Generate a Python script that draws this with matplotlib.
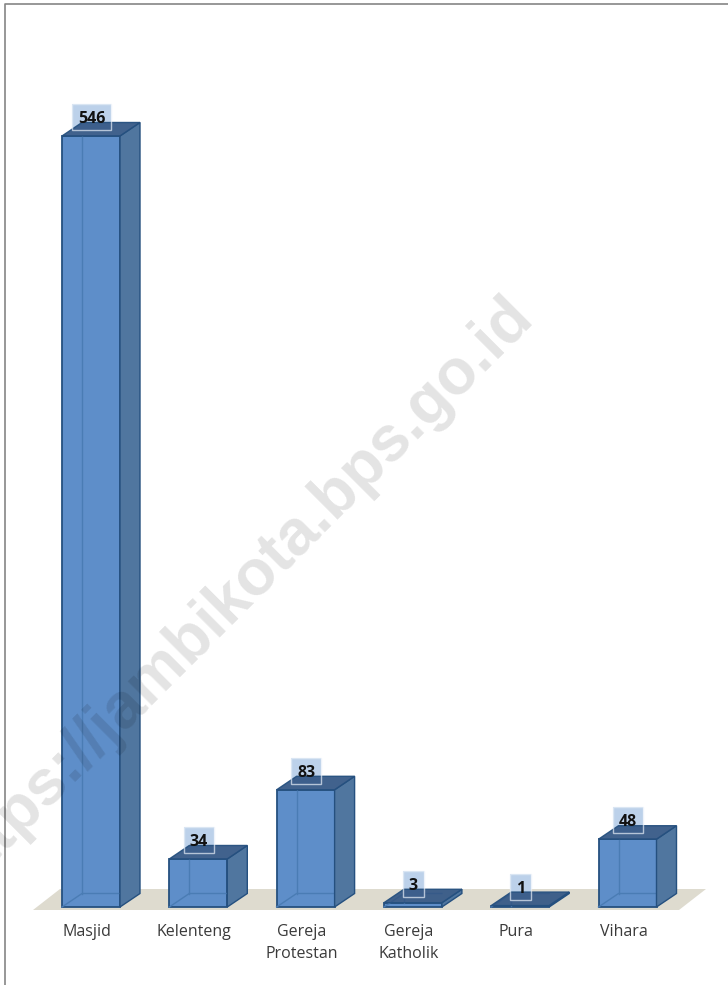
import matplotlib
matplotlib.use("Agg")
import matplotlib.pyplot as plt
from matplotlib.patches import Polygon, Rectangle

categories = ["Masjid", "Kelenteng", "Gereja\nProtestan", "Gereja\nKatholik", "Pura", "Vihara"]
values = [546, 34, 83, 3, 1, 48]

W, H = 728, 985
# pixel positions of the plot in the picture
X0 = 91.0
X_STEP = 107.3
Y_BASE = 907.0
Y_SCALE = 771.0 / 546

BAR_W = 58 / X_STEP
DX = 20 / X_STEP
DY = 13.5 / Y_SCALE

FRONT = "#5e8ec9"
SIDE = "#50769f"
TOP = "#355886"
EDGE = "#25507f"
INNER = "#4a7cb4"

fig = plt.figure(figsize=(W / 100, H / 100), dpi=100)
ax = fig.add_axes([0, 0, 1, 1])
ax.set_xlim(-X0 / X_STEP, (W - X0) / X_STEP)
ax.set_ylim(-(H - Y_BASE) / Y_SCALE, Y_BASE / Y_SCALE)
ax.axis("off")

# page frame, only left and top are visible
ax.plot([5 / W, 5 / W, 1], [0, 1 - 4 / H, 1 - 4 / H], transform=ax.transAxes,
        color="#858585", lw=1.2, clip_on=False)

# floor
floor_y = -3 / Y_SCALE
ax.add_patch(Polygon([((33 - X0) / X_STEP, floor_y),
                      ((60 - X0) / X_STEP, 18 / Y_SCALE),
                      ((706 - X0) / X_STEP, 18 / Y_SCALE),
                      ((679 - X0) / X_STEP, floor_y)],
                     closed=True, fc="#dedbcf", ec="none", zorder=2))

for i, (name, v) in enumerate(zip(categories, values)):
    l = i - BAR_W / 2
    r = i + BAR_W / 2
    # faces
    ax.add_patch(Polygon([(l, 0), (r, 0), (r, v), (l, v)], closed=True,
                         fc=FRONT, ec=EDGE, lw=1.3, zorder=3))
    # back edges seen through the box
    ax.plot([l + DX, l + DX], [DY, v], color=INNER, lw=1, zorder=4)
    ax.plot([l, l + DX, r], [0, DY, DY], color=INNER, lw=1, zorder=4)
    ax.add_patch(Polygon([(r, 0), (r + DX, DY), (r + DX, v + DY), (r, v)], closed=True,
                         fc=SIDE, ec=EDGE, lw=1, zorder=5))
    # value label box sits under the top face, its frame over it
    box_w = (11 + 9.5 * len(str(v))) / X_STEP
    box_h = 26 / Y_SCALE
    box_x = i + 0.005 - box_w / 2
    box_y = v + 19 / Y_SCALE - box_h / 2
    ax.add_patch(Rectangle((box_x, box_y), box_w, box_h, fc="#bcd1ea", ec="none", zorder=5.5))
    ax.add_patch(Polygon([(l, v), (r, v), (r + DX, v + DY), (l + DX, v + DY)], closed=True,
                         fc=TOP, ec=EDGE, lw=1, alpha=0.94, zorder=6))
    ax.add_patch(Rectangle((box_x, box_y), box_w, box_h, fc="none", ec="#e8eff8",
                           lw=1, alpha=0.7, zorder=7))
    ax.text(i + 0.005, v + 17 / Y_SCALE, str(v), ha="center", va="center",
            fontsize=11.5, fontweight="bold", family="Open Sans", color="#111111", zorder=8)
    # category label
    ax.text(i - 0.037, -17 / Y_SCALE, name, ha="center", va="top",
            fontsize=11.5, family="Open Sans", color="#3a3a3a", linespacing=1.5, zorder=8)

# watermark lies over everything, and runs off the left edge as in the source
ax.text(535 / W, 1 - 318 / H, "https://jambikota.bps.go.id", transform=ax.transAxes,
        rotation=45, rotation_mode="anchor", ha="right", va="baseline",
        fontsize=46, fontweight="bold", family="Liberation Sans",
        color="black", alpha=0.11, zorder=10)

fig.savefig("out.png", dpi=100)
